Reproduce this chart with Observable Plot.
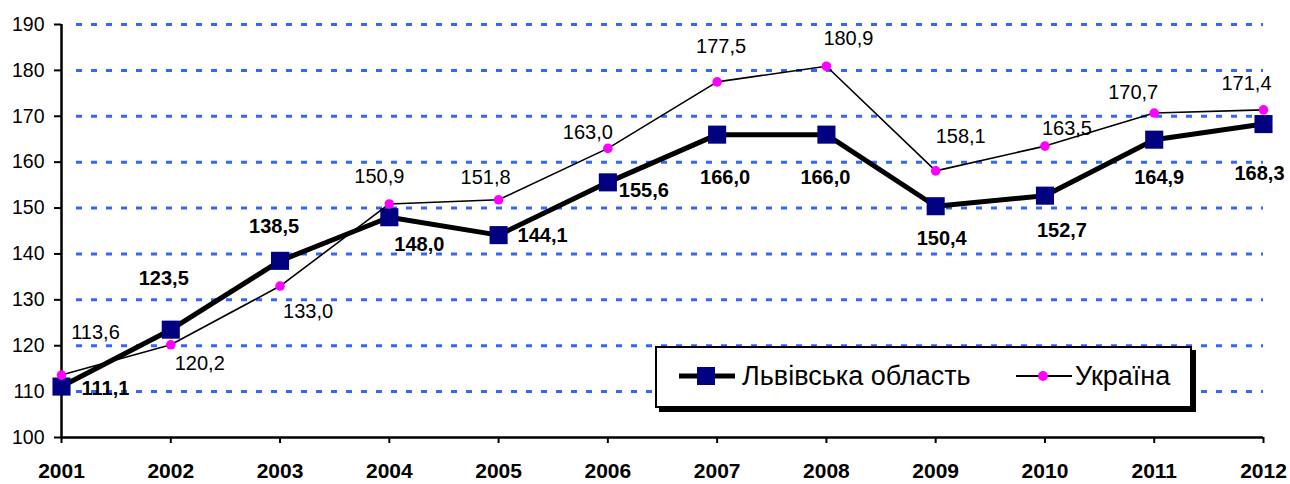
<!DOCTYPE html>
<html>
<head>
<meta charset="utf-8">
<script src="https://cdn.jsdelivr.net/npm/d3@7"></script>
<script src="https://cdn.jsdelivr.net/npm/@observablehq/plot@0.6"></script>
<style>
  html, body { margin: 0; padding: 0; background: #fff; }
  #wrap { position: relative; width: 1290px; height: 484px; font-family: Arial, "Liberation Sans", sans-serif; }
  #legend { position: absolute; left: 655px; top: 346px; width: 537px; height: 62px; box-sizing: border-box;
            border: 2px solid #000; background: #fff; box-shadow: 4px 4px 0 #000; }
  #legend svg { position: absolute; left: 0; top: 0; }
</style>
</head>
<body>
<div id="wrap"></div>
<script>
// ---- data ----
const years = [2001, 2002, 2003, 2004, 2005, 2006, 2007, 2008, 2009, 2010, 2011, 2012];
const lviv = [111.1, 123.5, 138.5, 148.0, 144.1, 155.6, 166.0, 166.0, 150.4, 152.7, 164.9, 168.3];
const ukraine = [113.6, 120.2, 133.0, 150.9, 151.8, 163.0, 177.5, 180.9, 158.1, 163.5, 170.7, 171.4];
const yTicks = [100, 110, 120, 130, 140, 150, 160, 170, 180, 190];
const seriesNames = ["Львівська область", "Україна"];

// label placement offsets (style, px)
const lvivLabelDx = [44, -7, -6, 30, 44, 36, 8, -1, 6, 17, 5, -4];
const lvivLabelDy = [2, -51, -34, 27, 0, 8, 43, 43, 32, 35, 38, 50];
const ukrLabelDx = [34, 29, 28, -10, -13, -20, 4, 22, 25, 22, -21, -17];
const ukrLabelDy = [-42, 19, 26, -27, -22, -16, -35, -28, -34, -18, -20, -26];

const lvivData = years.map((y, i) => ({year: y, value: lviv[i]}));
const ukrData = years.map((y, i) => ({year: y, value: ukraine[i]}));
const fmt = v => v.toFixed(1).replace(".", ",");

const FONT = 'Arial, "Liberation Sans", sans-serif';

const lvivLabels = lvivData.map((d, i) => Plot.text([d], {
  x: "year", y: "value", text: d => fmt(d.value),
  dx: lvivLabelDx[i], dy: lvivLabelDy[i],
  fontSize: 20, fontWeight: "bold", fill: "#000", textAnchor: "middle"
}));
const ukrLabels = ukrData.map((d, i) => Plot.text([d], {
  x: "year", y: "value", text: d => fmt(d.value),
  dx: ukrLabelDx[i], dy: ukrLabelDy[i],
  fontSize: 20, fill: "#000", textAnchor: "middle"
}));

const chart = Plot.plot({
  width: 1290,
  height: 484,
  marginLeft: 61,
  marginRight: 27,
  marginTop: 24,
  marginBottom: 47,
  style: {fontFamily: FONT, background: "#fff", color: "#000"},
  x: {domain: [2001, 2012], label: null},
  y: {domain: [100, 190], label: null},
  marks: [
    Plot.ruleY(yTicks.filter(t => t > 100), {
      stroke: "#3366ff", strokeWidth: 3, strokeDasharray: "6,9", strokeDashoffset: 9, insetLeft: 9
    }),
    Plot.axisY({ticks: yTicks, tickSize: 7, tickPadding: 10, fontSize: 19.5, strokeWidth: 2, tickFormat: d => String(d)}),
    Plot.axisX({ticks: years, tickSize: 6, tickPadding: 20, fontSize: 21, fontWeight: "bold", strokeWidth: 2, tickFormat: d => String(d)}),
    Plot.ruleX([2001], {stroke: "#000", strokeWidth: 2.5}),
    Plot.ruleY([100], {stroke: "#000", strokeWidth: 2.5}),
    Plot.line(lvivData, {x: "year", y: "value", stroke: "#000", strokeWidth: 5}),
    Plot.dot(lvivData, {x: "year", y: "value", symbol: "square", r: 10.2, fill: "#000080", stroke: "none"}),
    Plot.line(ukrData, {x: "year", y: "value", stroke: "#000", strokeWidth: 1.6}),
    Plot.dot(ukrData, {x: "year", y: "value", r: 4.8, fill: "#ff00ff", stroke: "none"}),
    ...lvivLabels,
    ...ukrLabels
  ]
});

const wrap = document.getElementById("wrap");
wrap.appendChild(chart);

// legend
const legend = document.createElement("div");
legend.id = "legend";
legend.innerHTML = `
<svg width="533" height="58" xmlns="http://www.w3.org/2000/svg" style="font-family:${FONT.replace(/"/g, "'")}">
  <line x1="22" x2="78" y1="28" y2="28" stroke="#000" stroke-width="5"/>
  <rect x="40" y="19" width="18" height="18" fill="#000080"/>
  <text x="85" y="28" dy="0.35em" font-size="27" fill="#000">${seriesNames[0]}</text>
  <line x1="359" x2="415" y1="28" y2="28" stroke="#000" stroke-width="1.8"/>
  <circle cx="386" cy="28" r="5" fill="#ff00ff"/>
  <text x="418" y="28" dy="0.35em" font-size="27" fill="#000">${seriesNames[1]}</text>
</svg>`;
wrap.appendChild(legend);
</script>
</body>
</html>
